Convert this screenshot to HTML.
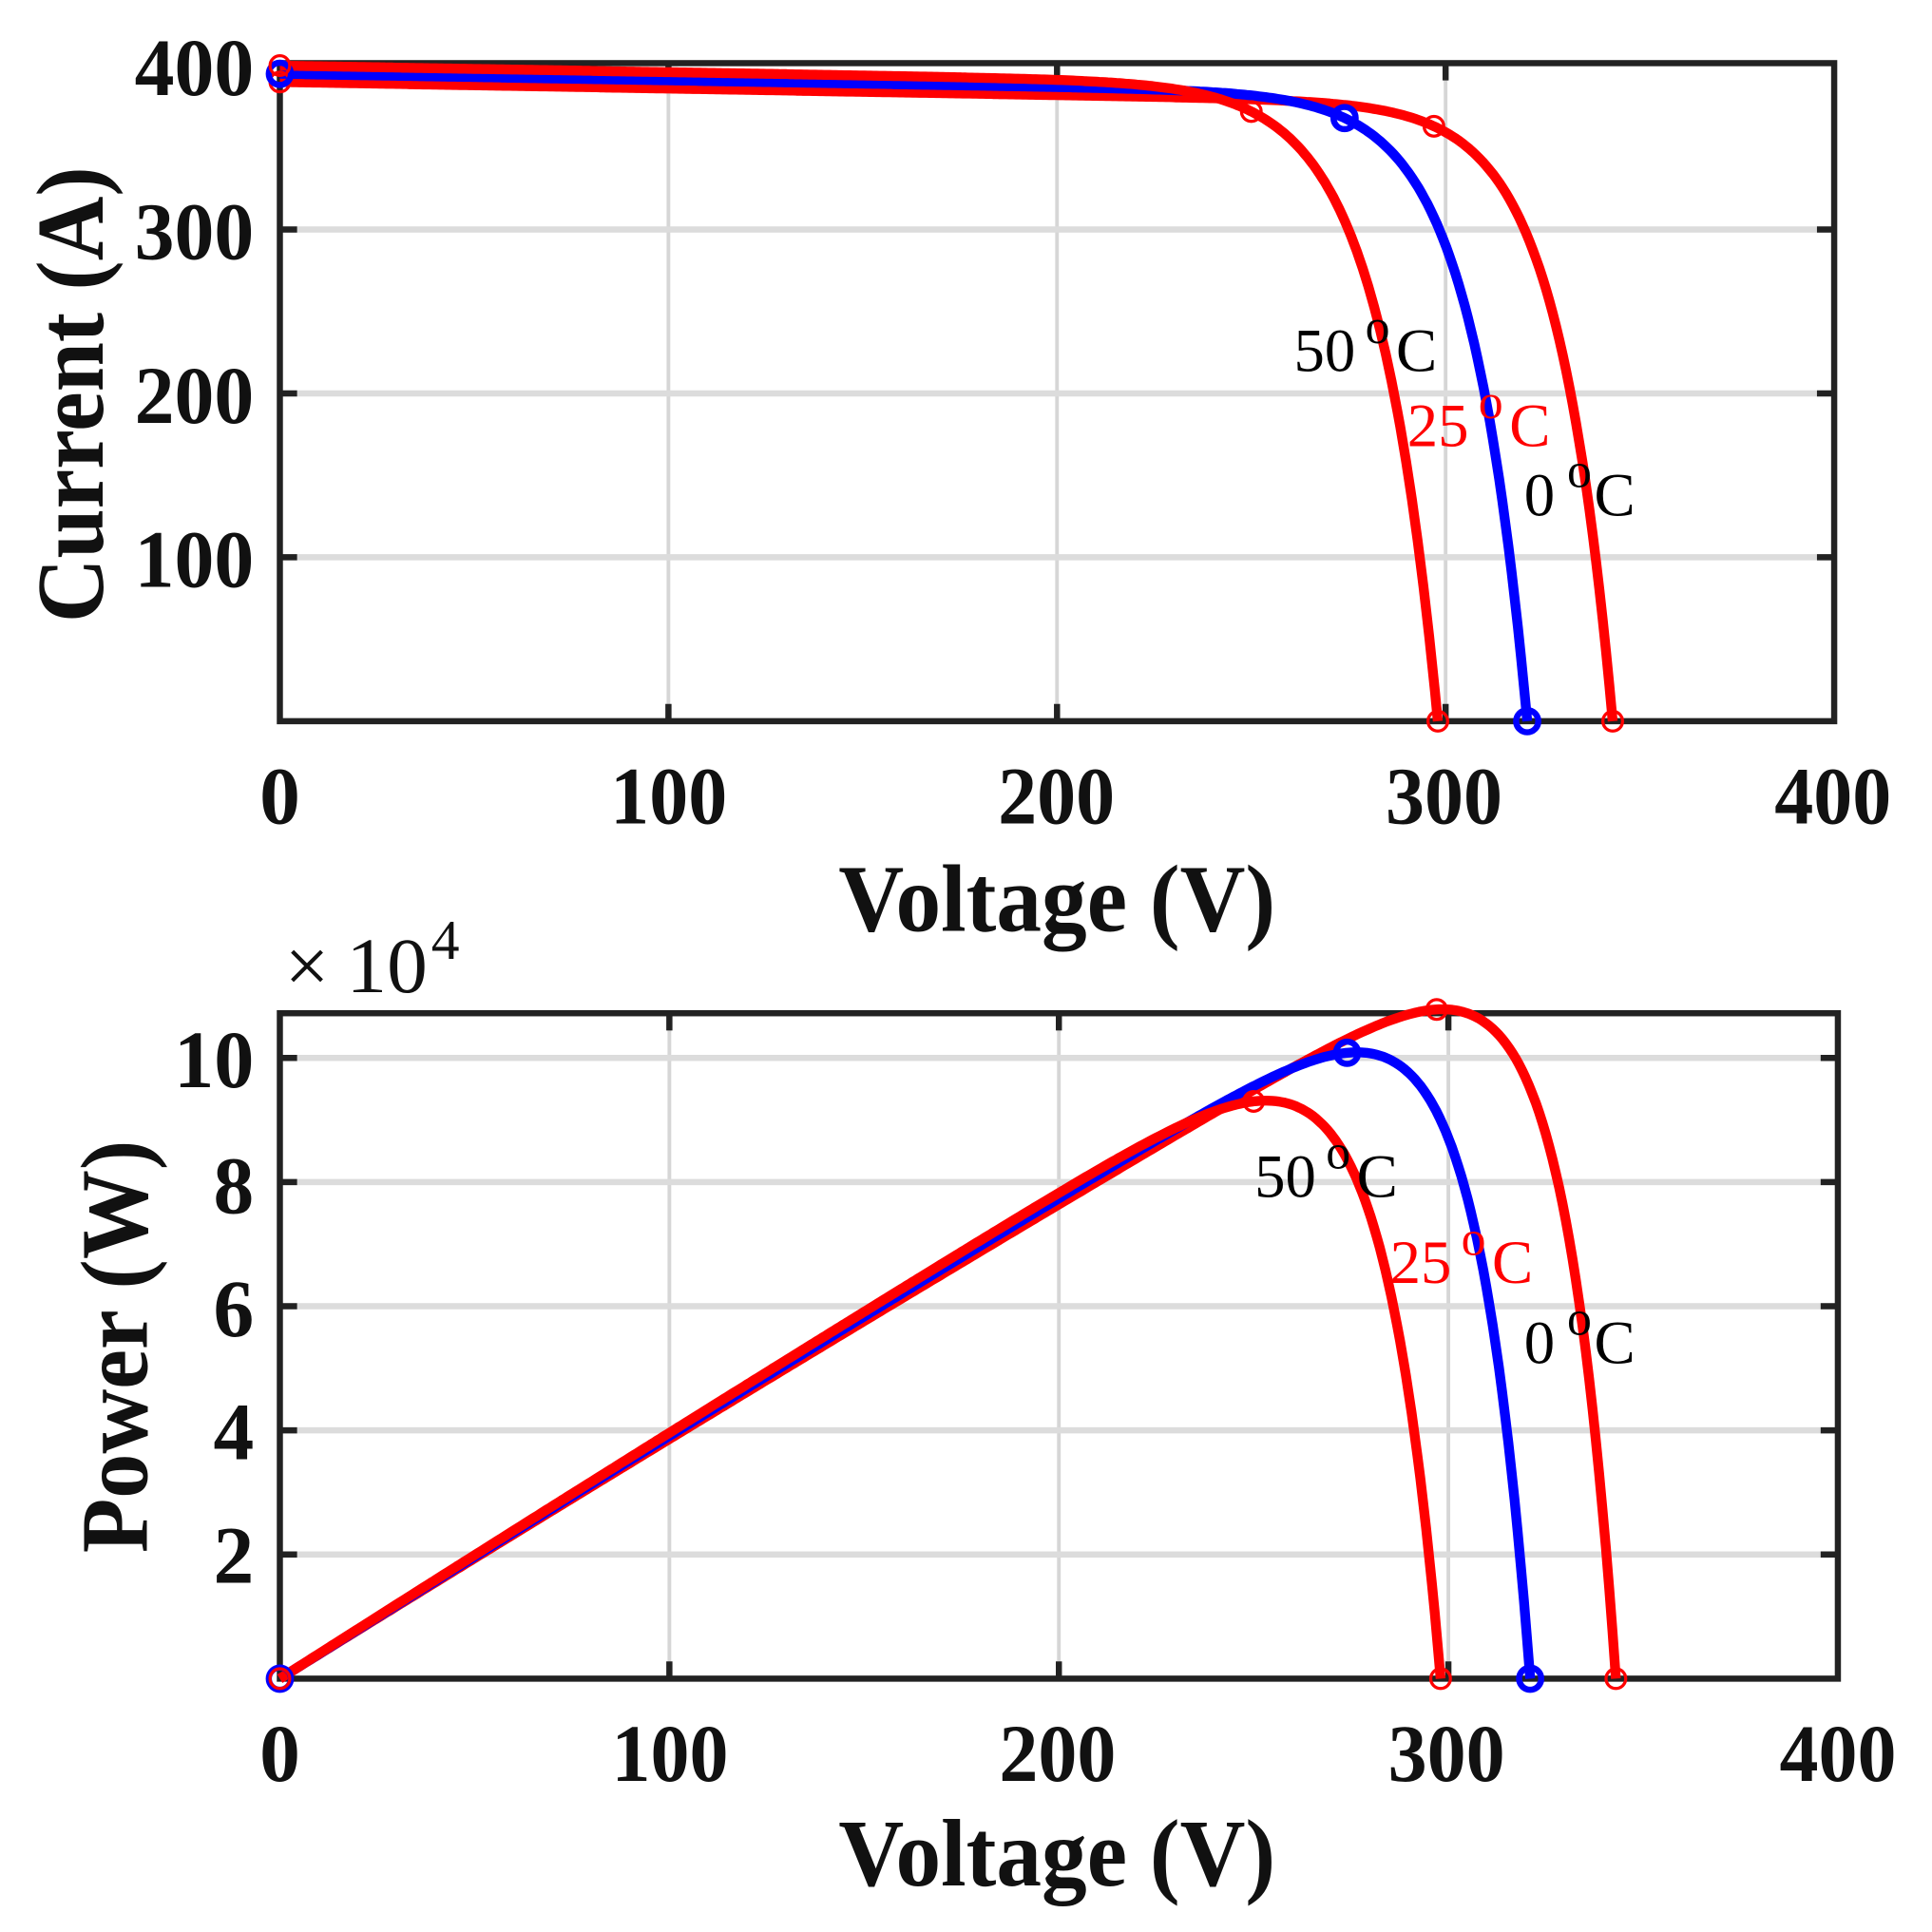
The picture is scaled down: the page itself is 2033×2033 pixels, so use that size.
<!DOCTYPE html>
<html><head><meta charset="utf-8"><style>
html,body{margin:0;padding:0;background:#fff}
svg{display:block}
text{font-family:"Liberation Serif",serif}
.t{font-weight:bold;font-size:66px;fill:#111}
.a{font-weight:bold;font-size:78px;fill:#111}
.l{font-size:50px}
.o{font-size:40px}
</style></head><body>
<svg id="s" xmlns="http://www.w3.org/2000/svg" width="2033" height="2033" viewBox="0 0 1560 1560">
<rect width="1560" height="1560" fill="#fff"/>
<g transform="translate(1.4,0.25) scale(0.9937,0.995)">
<g id="g1"></g>
<g id="g2"></g>
<g class="t" text-anchor="end">
<text x="205" y="77" textLength="97" lengthAdjust="spacingAndGlyphs">400</text>
<text x="205" y="210" textLength="97" lengthAdjust="spacingAndGlyphs">300</text>
<text x="205" y="343" textLength="97" lengthAdjust="spacingAndGlyphs">200</text>
<text x="205" y="476" textLength="97" lengthAdjust="spacingAndGlyphs">100</text>
</g>
<g class="t" text-anchor="middle">
<text x="226" y="668">0</text>
<text x="542" y="668" textLength="95" lengthAdjust="spacingAndGlyphs">100</text>
<text x="857" y="668" textLength="95" lengthAdjust="spacingAndGlyphs">200</text>
<text x="1172" y="668" textLength="95" lengthAdjust="spacingAndGlyphs">300</text>
<text x="1488" y="668" textLength="95" lengthAdjust="spacingAndGlyphs">400</text>
</g>
<text class="a" x="680" y="755" textLength="355" lengthAdjust="spacingAndGlyphs">Voltage (V)</text>
<text class="a" transform="translate(82,505) rotate(-90)" x="0" y="0" textLength="370" lengthAdjust="spacingAndGlyphs">Current (A)</text>
<text class="l" x="1050" y="301" textLength="50" lengthAdjust="spacingAndGlyphs">50</text><text class="o" x="1108" y="278">o</text><text class="l" x="1133" y="301">C</text>
<text class="l" x="1142" y="362" fill="#f00" textLength="50" lengthAdjust="spacingAndGlyphs">25</text><text class="o" x="1200" y="339" fill="#f00">o</text><text class="l" x="1225" y="362" fill="#f00">C</text>
<text class="l" x="1237" y="418">0</text><text class="o" x="1272" y="395">o</text><text class="l" x="1294" y="418">C</text>
<g class="t" text-anchor="end">
<text x="205" y="882" textLength="65" lengthAdjust="spacingAndGlyphs">10</text>
<text x="205" y="984">8</text>
<text x="205" y="1084">6</text>
<text x="205" y="1184">4</text>
<text x="205" y="1284">2</text>
</g>
<g class="t" text-anchor="middle">
<text x="226" y="1445">0</text>
<text x="543" y="1445" textLength="95" lengthAdjust="spacingAndGlyphs">100</text>
<text x="858" y="1445" textLength="95" lengthAdjust="spacingAndGlyphs">200</text>
<text x="1174" y="1445" textLength="95" lengthAdjust="spacingAndGlyphs">300</text>
<text x="1492" y="1445" textLength="95" lengthAdjust="spacingAndGlyphs">400</text>
</g>
<text class="a" x="680" y="1530" textLength="355" lengthAdjust="spacingAndGlyphs">Voltage (V)</text>
<text class="a" transform="translate(118,1260) rotate(-90)" textLength="335" lengthAdjust="spacingAndGlyphs">Power (W)</text>
<text x="230" y="805" font-size="64" fill="#111">×</text>
<text x="280" y="805" font-size="64" fill="#111" textLength="66" lengthAdjust="spacingAndGlyphs">10</text>
<text x="349" y="778" font-size="46" fill="#111">4</text>
<text class="l" x="1018" y="971" textLength="50" lengthAdjust="spacingAndGlyphs">50</text><text class="o" x="1076" y="948">o</text><text class="l" x="1101" y="971">C</text>
<text class="l" x="1128" y="1041" fill="#f00" textLength="50" lengthAdjust="spacingAndGlyphs">25</text><text class="o" x="1186" y="1018" fill="#f00">o</text><text class="l" x="1211" y="1041" fill="#f00">C</text>
<text class="l" x="1237" y="1106">0</text><text class="o" x="1272" y="1083">o</text><text class="l" x="1294" y="1106">C</text>
</g>
</svg>
<script>
var NS="http://www.w3.org/2000/svg";
function el(p,t,a){var e=document.createElementNS(NS,t);for(var k in a)e.setAttribute(k,a[k]);p.appendChild(e);return e;}
var curves=[
 {Isc:390,k:0.04,Voc:343,Vm:297,Im:363,c:"#f00"},
 {Isc:395,k:0.04,Voc:321,Vm:274,Im:368,c:"#00f"},
 {Isc:400,k:0.04,Voc:298,Vm:250,Im:372,c:"#f00"}
];
curves.forEach(function(c){
 c.a=(c.Voc-c.Vm)/Math.log((c.Isc-c.k*c.Voc)/(c.Isc-c.k*c.Vm-c.Im));
 c.A=(c.Isc-c.k*c.Voc)/(Math.exp(c.Voc/c.a)-1);
 c.I=function(V){return Math.max(0,c.Isc-c.k*V-c.A*(Math.exp(V/c.a)-1));};
});
function plot(g,L,R,T,B,ymax,yticks,yv,f){
 var sx=function(v){return L+(R-L)*v/400;}, sy=function(v){return B-(B-T)*v/ymax;};
 [100,200,300].forEach(function(v){el(g,"line",{x1:sx(v),x2:sx(v),y1:T,y2:B,stroke:"#d6d6d6","stroke-width":3});});
 yticks.forEach(function(v){el(g,"line",{x1:L,x2:R,y1:sy(v),y2:sy(v),stroke:"#dcdcdc","stroke-width":5});});
 [100,200,300].forEach(function(v){el(g,"line",{x1:sx(v),x2:sx(v),y1:B,y2:B-14,stroke:"#222","stroke-width":5});el(g,"line",{x1:sx(v),x2:sx(v),y1:T,y2:T+14,stroke:"#222","stroke-width":5});});
 yticks.forEach(function(v){el(g,"line",{x1:L,x2:L+14,y1:sy(v),y2:sy(v),stroke:"#222","stroke-width":5});el(g,"line",{x1:R,x2:R-14,y1:sy(v),y2:sy(v),stroke:"#222","stroke-width":5});});
 el(g,"rect",{x:L,y:T,width:R-L,height:B-T,fill:"none",stroke:"#222","stroke-width":5});
 curves.forEach(function(c){
  var d="";
  for(var i=0;i<=400;i++){var V=c.Voc*i/400;d+=(i?"L":"M")+sx(V).toFixed(1)+" "+sy(f(c,V)).toFixed(1);}
  el(g,"path",{d:d,fill:"none",stroke:c.c,"stroke-width":8,"stroke-linejoin":"round"});
 });
 curves.forEach(function(c){
  var bw=c.c=="#00f";
  [0,c.Vm,c.Voc].forEach(function(V){
   el(g,"circle",{cx:sx(V),cy:sy(f(c,V)),r:bw?9:8,fill:"none",stroke:c.c,"stroke-width":bw?5:2.5});
  });
 });
}
plot(document.getElementById("g1"),226,1489,51,585,401.5,[100,200,300],0,function(c,V){return c.I(V);});
plot(document.getElementById("g2"),226,1492,822,1362,107.2,[20,40,60,80,100],0,function(c,V){return V*c.I(V)/1000;});
</script>
</body></html>
